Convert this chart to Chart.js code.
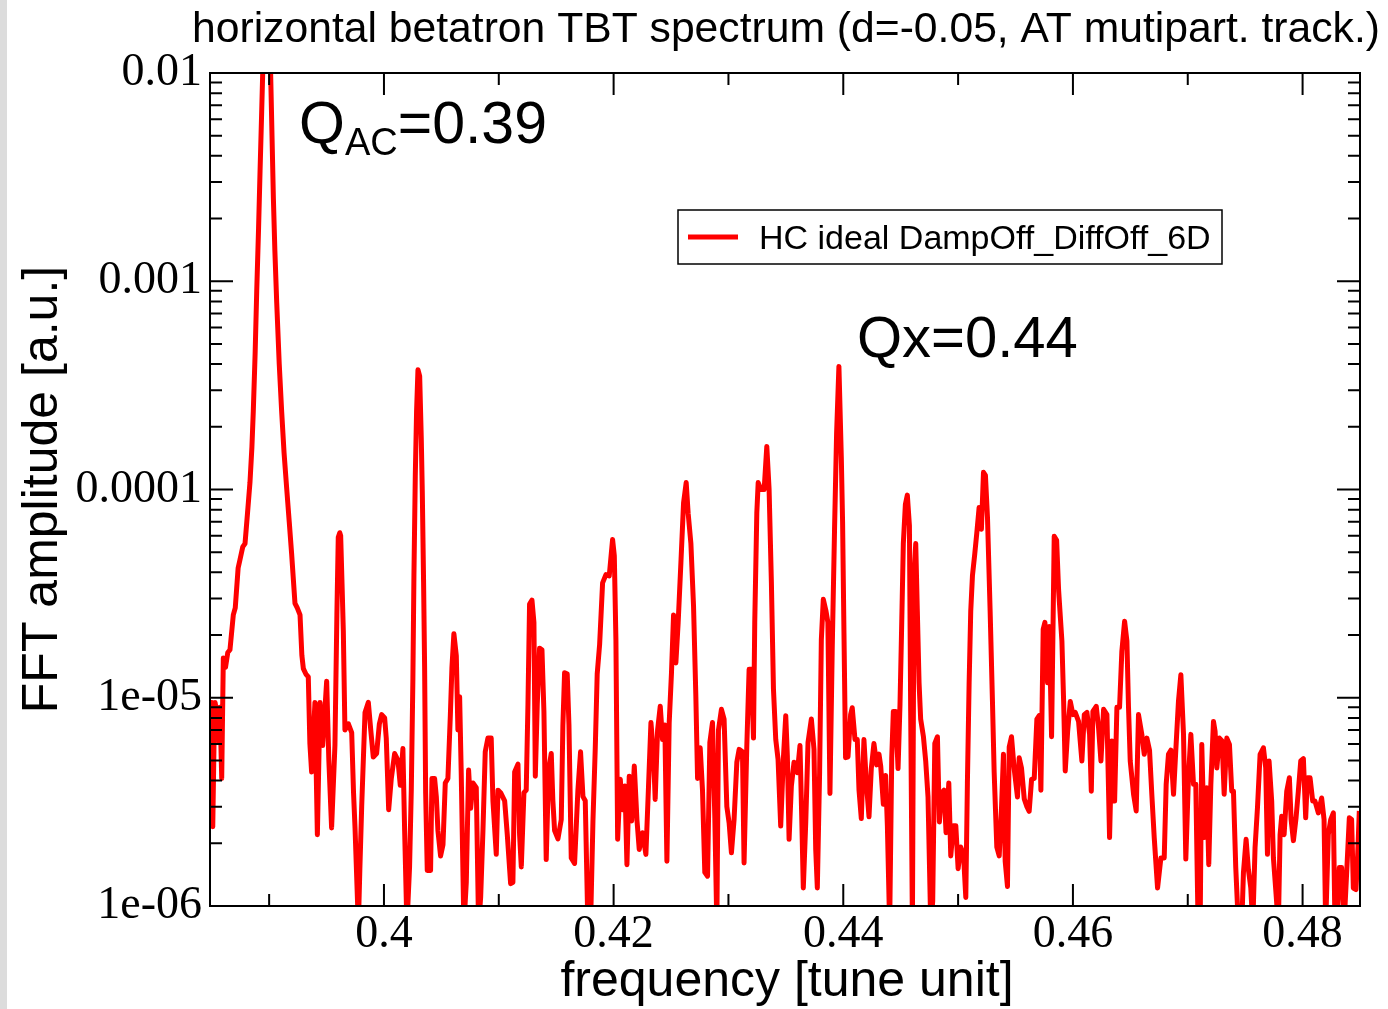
<!DOCTYPE html>
<html>
<head>
<meta charset="utf-8">
<title>horizontal betatron TBT spectrum</title>
<script src="https://cdn.jsdelivr.net/npm/chart.js@4.4.0/dist/chart.umd.min.js"></script>
<style>
  html, body { margin: 0; padding: 0; background: #fff; }
  #wrap { width: 1388px; height: 1009px; }
</style>
</head>
<body>
<div id="wrap"><canvas id="spectrum" width="1388" height="1009"></canvas></div>
<script>
// Texts
const chartTitle = 'horizontal betatron TBT spectrum (d=-0.05, AT mutipart. track.)';
const xTitle = 'frequency [tune unit]';
const yTitle = 'FFT amplitude [a.u.]';
const seriesName = 'HC ideal DampOff_DiffOff_6D';

// Axis ticks
const xTickValues = [0.39, 0.40, 0.41, 0.42, 0.43, 0.44, 0.45, 0.46, 0.47, 0.48];
const xLabelValues = [0.40, 0.42, 0.44, 0.46, 0.48];
const xLabelTexts = ['0.4', '0.42', '0.44', '0.46', '0.48'];
const yDecades = [1e-6, 1e-5, 1e-4, 1e-3, 1e-2];
const yLabelTexts = ['1e-06', '1e-05', '0.0001', '0.001', '0.01'];

// Spectrum (tune, amplitude)
const freq = [
  0.38487, 0.38495, 0.38502, 0.38509, 0.38520, 0.38529, 0.38545, 0.38558, 0.38572, 0.38587,
  0.38601, 0.38620, 0.38640, 0.38659, 0.38688, 0.38705, 0.38730, 0.38746, 0.38770, 0.38790,
  0.38810, 0.38833, 0.38850, 0.38862, 0.38878, 0.38892, 0.38908, 0.38921, 0.38935, 0.38944,
  0.38960, 0.38979, 0.38998, 0.39013, 0.39025, 0.39037, 0.39050, 0.39066, 0.39088, 0.39109,
  0.39130, 0.39153, 0.39175, 0.39196, 0.39225, 0.39245, 0.39269, 0.39285, 0.39298, 0.39320,
  0.39341, 0.39355, 0.39370, 0.39399, 0.39420, 0.39443, 0.39466, 0.39501, 0.39520, 0.39544,
  0.39573, 0.39590, 0.39602, 0.39615, 0.39623, 0.39635, 0.39646, 0.39660, 0.39690, 0.39719,
  0.39735, 0.39748, 0.39777, 0.39790, 0.39806, 0.39835, 0.39864, 0.39885, 0.39907, 0.39936,
  0.39960, 0.39980, 0.40006, 0.40020, 0.40041, 0.40064, 0.40093, 0.40122, 0.40142, 0.40165,
  0.40180, 0.40200, 0.40223, 0.40238, 0.40252, 0.40261, 0.40273, 0.40284, 0.40296, 0.40311,
  0.40325, 0.40334, 0.40345, 0.40354, 0.40363, 0.40377, 0.40406, 0.40418, 0.40441, 0.40456,
  0.40470, 0.40493, 0.40514, 0.40534, 0.40557, 0.40578, 0.40592, 0.40609, 0.40630, 0.40644,
  0.40659, 0.40673, 0.40696, 0.40717, 0.40737, 0.40755, 0.40775, 0.40804, 0.40824, 0.40842,
  0.40862, 0.40882, 0.40905, 0.40934, 0.40949, 0.40978, 0.40993, 0.41016, 0.41051, 0.41074,
  0.41103, 0.41123, 0.41138, 0.41167, 0.41181, 0.41196, 0.41219, 0.41239, 0.41254, 0.41268,
  0.41289, 0.41306, 0.41318, 0.41335, 0.41355, 0.41376, 0.41393, 0.41413, 0.41434, 0.41457,
  0.41471, 0.41486, 0.41515, 0.41544, 0.41558, 0.41573, 0.41596, 0.41611, 0.41631, 0.41660,
  0.41689, 0.41712, 0.41733, 0.41753, 0.41776, 0.41799, 0.41820, 0.41840, 0.41857, 0.41878,
  0.41904, 0.41933, 0.41962, 0.41991, 0.42006, 0.42020, 0.42035, 0.42058, 0.42078, 0.42099,
  0.42116, 0.42136, 0.42157, 0.42180, 0.42203, 0.42223, 0.42252, 0.42281, 0.42304, 0.42325,
  0.42348, 0.42362, 0.42383, 0.42406, 0.42426, 0.42446, 0.42464, 0.42484, 0.42504, 0.42522,
  0.42542, 0.42562, 0.42586, 0.42609, 0.42632, 0.42649, 0.42673, 0.42696, 0.42716, 0.42731,
  0.42754, 0.42774, 0.42794, 0.42818, 0.42838, 0.42861, 0.42881, 0.42899, 0.42913, 0.42939,
  0.42962, 0.42986, 0.43006, 0.43026, 0.43049, 0.43073, 0.43093, 0.43122, 0.43136, 0.43160,
  0.43180, 0.43200, 0.43218, 0.43229, 0.43247, 0.43259, 0.43282, 0.43311, 0.43334, 0.43354,
  0.43374, 0.43392, 0.43412, 0.43432, 0.43455, 0.43478, 0.43499, 0.43513, 0.43528, 0.43548,
  0.43571, 0.43600, 0.43623, 0.43638, 0.43652, 0.43673, 0.43693, 0.43722, 0.43745, 0.43760,
  0.43774, 0.43794, 0.43809, 0.43826, 0.43850, 0.43866, 0.43884, 0.43904, 0.43924, 0.43942,
  0.43962, 0.43983, 0.43994, 0.44006, 0.44020, 0.44041, 0.44064, 0.44078, 0.44102, 0.44122,
  0.44137, 0.44157, 0.44180, 0.44201, 0.44224, 0.44244, 0.44267, 0.44291, 0.44311, 0.44326,
  0.44349, 0.44369, 0.44384, 0.44404, 0.44422, 0.44436, 0.44456, 0.44477, 0.44494, 0.44506,
  0.44523, 0.44541, 0.44558, 0.44576, 0.44587, 0.44602, 0.44616, 0.44631, 0.44645, 0.44660,
  0.44674, 0.44698, 0.44718, 0.44738, 0.44762, 0.44779, 0.44797, 0.44820, 0.44837, 0.44855,
  0.44878, 0.44895, 0.44919, 0.44936, 0.44959, 0.44980, 0.45000, 0.45023, 0.45047, 0.45067,
  0.45081, 0.45096, 0.45110, 0.45125, 0.45145, 0.45163, 0.45183, 0.45203, 0.45221, 0.45238,
  0.45256, 0.45279, 0.45299, 0.45314, 0.45337, 0.45358, 0.45378, 0.45395, 0.45410, 0.45430,
  0.45445, 0.45465, 0.45488, 0.45517, 0.45532, 0.45552, 0.45576, 0.45599, 0.45619, 0.45640,
  0.45663, 0.45686, 0.45706, 0.45721, 0.45741, 0.45756, 0.45779, 0.45794, 0.45814, 0.45837,
  0.45858, 0.45875, 0.45904, 0.45919, 0.45933, 0.45954, 0.45977, 0.46000, 0.46020, 0.46049,
  0.46078, 0.46099, 0.46122, 0.46145, 0.46160, 0.46174, 0.46203, 0.46223, 0.46244, 0.46267,
  0.46296, 0.46319, 0.46339, 0.46363, 0.46383, 0.46406, 0.46426, 0.46450, 0.46470, 0.46484,
  0.46499, 0.46528, 0.46551, 0.46571, 0.46600, 0.46621, 0.46644, 0.46667, 0.46687, 0.46708,
  0.46737, 0.46766, 0.46795, 0.46812, 0.46832, 0.46853, 0.46876, 0.46896, 0.46919, 0.46940,
  0.46963, 0.46983, 0.47006, 0.47027, 0.47050, 0.47070, 0.47090, 0.47108, 0.47122, 0.47143,
  0.47166, 0.47183, 0.47201, 0.47224, 0.47238, 0.47253, 0.47276, 0.47299, 0.47317, 0.47340,
  0.47363, 0.47383, 0.47398, 0.47418, 0.47441, 0.47470, 0.47485, 0.47508, 0.47528, 0.47549,
  0.47566, 0.47586, 0.47607, 0.47630, 0.47659, 0.47679, 0.47694, 0.47708, 0.47731, 0.47746,
  0.47769, 0.47789, 0.47804, 0.47818, 0.47839, 0.47862, 0.47885, 0.47900, 0.47920, 0.47943,
  0.47963, 0.47984, 0.48007, 0.48027, 0.48042, 0.48065, 0.48088, 0.48108, 0.48137, 0.48166,
  0.48187, 0.48201, 0.48224, 0.48245, 0.48268, 0.48282, 0.48297, 0.48320, 0.48340, 0.48361,
  0.48384, 0.48407, 0.48427, 0.48442, 0.48465, 0.48480, 0.48494
];
const amp = [
  7.0e-6, 9.5e-6, 6.5e-6, 2.4e-6, 6.0e-6, 9.5e-6, 8.5e-6, 6.2e-6, 9.0e-6, 4.1e-6,
  1.55e-5, 1.4e-5, 1.65e-5, 1.7e-5, 2.5e-5, 2.7e-5, 4.2e-5, 4.6e-5, 5.3e-5, 5.5e-5,
  7.5e-5, 1.08e-4, 1.6e-4, 2.37e-4, 4.5e-4, 9.0e-4, 1.8e-3, 3.4e-3, 6.5e-3, 1.0e-2,
  2.0e-2, 2.8e-2, 2.0e-2, 1.0e-2, 5.0e-3, 2.5e-3, 1.4e-3, 7.9e-4, 4.0e-4, 2.37e-4,
  1.5e-4, 1.01e-4, 7.0e-5, 4.9e-5, 2.84e-5, 2.7e-5, 2.5e-5, 1.6e-5, 1.38e-5, 1.3e-5,
  1.26e-5, 6.0e-6, 4.4e-6, 9.5e-6, 2.2e-6, 9.5e-6, 5.9e-6, 1.2e-5, 5.0e-6, 2.37e-6,
  5.9e-6, 2.5e-5, 5.9e-5, 6.2e-5, 6.0e-5, 3.5e-5, 2.1e-5, 7.0e-6, 7.5e-6, 6.8e-6,
  3.5e-6, 2.37e-6, 8.0e-7, 1.5e-6, 3.0e-6, 8.5e-6, 9.5e-6, 7.0e-6, 5.2e-6, 5.4e-6,
  7.5e-6, 8.3e-6, 8.0e-6, 6.4e-6, 2.9e-6, 4.1e-6, 5.4e-6, 5.0e-6, 3.8e-6, 5.7e-6,
  2.3e-6, 8.0e-7, 1.54e-6, 3.6e-6, 1.24e-5, 3.9e-5, 1.18e-4, 2.37e-4, 3.76e-4, 3.5e-4,
  1.75e-4, 9.6e-5, 3.6e-5, 1.4e-5, 3.5e-6, 1.48e-6, 1.48e-6, 4.1e-6, 4.1e-6, 3.35e-6,
  2.3e-6, 1.74e-6, 1.97e-6, 3.9e-6, 4.1e-6, 8.2e-6, 1.4e-5, 2.03e-5, 1.59e-5, 7.0e-6,
  1.01e-5, 4.3e-6, 8.0e-7, 1.3e-6, 4.5e-6, 2.95e-6, 3.9e-6, 3.7e-6, 8.0e-7, 1.1e-6,
  2.3e-6, 5.5e-6, 6.4e-6, 6.4e-6, 3.2e-6, 1.77e-6, 3.6e-6, 3.5e-6, 3.2e-6, 2.2e-6,
  1.28e-6, 1.3e-6, 4.4e-6, 4.8e-6, 2.2e-6, 1.54e-6, 3.5e-6, 3.6e-6, 9.3e-6, 2.82e-5,
  2.94e-5, 2.3e-5, 4.2e-6, 9.3e-6, 1.73e-5, 1.7e-5, 8.6e-6, 1.67e-6, 4.5e-6, 5.4e-6,
  3.2e-6, 2.3e-6, 2.1e-6, 2.6e-6, 7.3e-6, 1.32e-5, 1.3e-5, 7.4e-6, 1.7e-6, 1.6e-6,
  3.6e-6, 5.5e-6, 3.35e-6, 3.2e-6, 8.0e-7, 8.0e-7, 2.56e-6, 5.7e-6, 1.3e-5, 1.8e-5,
  3.56e-5, 3.9e-5, 3.85e-5, 5.75e-5, 4.8e-5, 1.9e-5, 2.09e-6, 4.06e-6, 2.9e-6, 3.77e-6,
  1.58e-6, 4.2e-6, 2.56e-6, 4.7e-6, 2.6e-6, 1.87e-6, 2.25e-6, 1.77e-6, 3.77e-6, 7.6e-6,
  5.25e-6, 3.25e-6, 7.0e-6, 9.1e-6, 6.3e-6, 7.4e-6, 1.64e-6, 7.6e-6, 1.32e-5, 2.5e-5,
  1.47e-5, 2.29e-5, 4.45e-5, 8.6e-5, 1.08e-4, 7.7e-5, 5.5e-5, 2.75e-5, 1.02e-5, 4.1e-6,
  5.75e-6, 3.6e-6, 1.45e-6, 1.39e-6, 6.1e-6, 7.6e-6, 2.7e-6, 8.0e-7, 7.0e-6, 8.8e-6,
  7.9e-6, 3.0e-6, 2.5e-6, 1.8e-6, 2.6e-6, 4.9e-6, 5.65e-6, 5.5e-6, 1.61e-6, 5.9e-6,
  1.37e-5, 1.37e-5, 6.4e-6, 2.29e-5, 7.7e-5, 1.08e-4, 1.0e-4, 1.0e-4, 1.61e-4, 1.0e-4,
  3.56e-5, 1.1e-5, 6.3e-6, 5.06e-6, 2.42e-6, 5.06e-6, 8.2e-6, 5.25e-6, 2.09e-6, 3.77e-6,
  4.9e-6, 4.37e-6, 5.9e-6, 2.7e-6, 1.22e-6, 2.5e-6, 6.1e-6, 7.9e-6, 5.65e-6, 1.87e-6,
  1.22e-6, 4.4e-6, 1.9e-5, 2.97e-5, 2.6e-5, 2.3e-5, 3.47e-6, 1.75e-5, 6.45e-5, 1.87e-4,
  3.9e-4, 1.42e-4, 6.98e-5, 2.05e-5, 5.15e-6, 5.2e-6, 8.3e-6, 8.95e-6, 6.3e-6, 6.3e-6,
  3.6e-6, 2.63e-6, 6.3e-6, 3.9e-6, 2.68e-6, 4.57e-6, 6.03e-6, 4.76e-6, 5.36e-6, 4.7e-6,
  3.08e-6, 4.23e-6, 2.43e-6, 8.0e-7, 5.15e-6, 8.6e-6, 8.6e-6, 4.57e-6, 9.3e-6, 1.9e-5,
  5.5e-5, 8.5e-5, 9.4e-5, 6.7e-5, 8.6e-6, 8.0e-7, 3.86e-5, 5.5e-5, 2.6e-5, 1.18e-5,
  7.9e-6, 6.5e-6, 4.95e-6, 3.34e-6, 8.0e-7, 1.06e-6, 6.03e-6, 6.5e-6, 2.53e-6, 3.47e-6,
  3.6e-6, 2.25e-6, 3.9e-6, 1.74e-6, 2.43e-6, 2.43e-6, 1.51e-6, 1.92e-6, 1.77e-6, 1.1e-6,
  3.9e-6, 1.18e-5, 2.6e-5, 3.86e-5, 4.9e-5, 6.2e-5, 8.2e-5, 6.45e-5, 1.21e-4, 1.17e-4,
  7.3e-5, 2.6e-5, 9.7e-6, 4.4e-6, 1.92e-6, 1.74e-6, 2.96e-6, 5.36e-6, 1.64e-6, 1.24e-6,
  5.8e-6, 6.5e-6, 4.57e-6, 3.34e-6, 5.15e-6, 4.6e-6, 3.27e-6, 3.0e-6, 2.85e-6, 4.06e-6,
  4.1e-6, 7.9e-6, 8.2e-6, 3.6e-6, 2.13e-5, 2.3e-5, 1.18e-5, 2.2e-5, 6.5e-6, 5.96e-5,
  5.7e-5, 3.3e-5, 1.87e-5, 9.6e-6, 4.45e-6, 6.9e-6, 9.6e-6, 8.3e-6, 8.5e-6, 7.7e-6,
  4.97e-6, 8.3e-6, 8.5e-6, 6.67e-6, 3.56e-6, 8.6e-6, 9.1e-6, 7.2e-6, 4.97e-6, 8.8e-6,
  8.3e-6, 2.13e-6, 6.2e-6, 3.19e-6, 9.0e-6, 9.0e-6, 1.67e-5, 2.33e-5, 1.87e-5, 9.0e-6,
  4.97e-6, 3.44e-6, 2.86e-6, 8.3e-6, 6.67e-6, 5.35e-6, 6.4e-6, 5.6e-6, 3.44e-6, 2.13e-6,
  1.22e-6, 1.7e-6, 1.7e-6, 3.84e-6, 5.35e-6, 5.6e-6, 3.44e-6, 5.6e-6, 9.6e-6, 1.29e-5,
  6.67e-6, 1.68e-6, 4.13e-6, 6.67e-6, 3.84e-6, 3.84e-6, 8.0e-7, 8.0e-7, 5.97e-6, 2.13e-6,
  3.7e-6, 1.58e-6, 3.84e-6, 7.7e-6, 6.9e-6, 4.6e-6, 6.4e-6, 6.2e-6, 3.44e-6, 6.4e-6,
  5.97e-6, 3.56e-6, 3.56e-6, 1.53e-6, 8.0e-7, 8.0e-7, 1.45e-6, 2.09e-6, 1.5e-6, 1.22e-6,
  8.0e-7, 1.9e-6, 2.96e-6, 5.35e-6, 5.75e-6, 4.6e-6, 1.77e-6, 4.97e-6, 3.19e-6, 1.7e-6,
  1.14e-6, 8.0e-7, 2.2e-6, 2.7e-6, 2.2e-6, 3.56e-6, 4.13e-6, 2.6e-6, 2.06e-6, 2.65e-6,
  3.56e-6, 4.97e-6, 5.1e-6, 2.65e-6, 4.13e-6, 4.13e-6, 3.19e-6, 3.19e-6, 2.8e-6, 3.3e-6,
  2.6e-6, 8.0e-7, 2.2e-6, 2.6e-6, 2.8e-6, 8.0e-7, 8.0e-7, 1.53e-6, 1.53e-6, 8.0e-7,
  1.45e-6, 2.65e-6, 2.6e-6, 1.22e-6, 1.2e-6, 1.77e-6, 2.86e-6
];

function xLabel(v) {
  const i = xLabelValues.findIndex(t => Math.abs(t - v) < 1e-9);
  return i < 0 ? '' : xLabelTexts[i];
}

function yLabel(v) {
  const i = yDecades.findIndex(t => Math.abs(Math.log10(t) - Math.log10(v)) < 1e-9);
  return i < 0 ? '' : yLabelTexts[i];
}

// White page with the thin grey strip at the left edge
const background = {
  id: 'background',
  beforeDraw(chart) {
    const ctx = chart.ctx;
    ctx.save();
    ctx.fillStyle = '#fff';
    ctx.fillRect(0, 0, chart.width, chart.height);
    ctx.fillStyle = '#dcdcdc';
    ctx.fillRect(0, 0, 7, chart.height);
    ctx.restore();
  }
};

// Frame and inward tick marks on all four sides
const frame = {
  id: 'frame',
  afterDatasetsDraw(chart) {
    const { ctx, chartArea: a, scales: { x, y } } = chart;
    ctx.save();
    ctx.strokeStyle = '#000';
    ctx.lineWidth = 2;
    ctx.beginPath();
    x.ticks.forEach(t => {
      const px = x.getPixelForValue(t.value);
      const len = xLabel(t.value) ? 22 : 12;
      ctx.moveTo(px, a.bottom); ctx.lineTo(px, a.bottom - len);
      ctx.moveTo(px, a.top); ctx.lineTo(px, a.top + len);
    });
    y.ticks.forEach(t => {
      const py = y.getPixelForValue(t.value);
      const len = t.major ? 23 : 12;
      ctx.moveTo(a.left, py); ctx.lineTo(a.left + len, py);
      ctx.moveTo(a.right, py); ctx.lineTo(a.right - len, py);
    });
    ctx.stroke();
    ctx.strokeRect(a.left, a.top, a.right - a.left, a.bottom - a.top);
    ctx.restore();
  }
};

// Title, axis titles, notes and the boxed legend
const labels = {
  id: 'labels',
  afterDraw(chart) {
    const { ctx, chartArea: a } = chart;
    const cx = (a.left + a.right) / 2;
    const sans = '"Liberation Sans", Arial, sans-serif';
    ctx.save();
    ctx.fillStyle = '#000';
    ctx.textBaseline = 'alphabetic';

    ctx.textAlign = 'center';
    ctx.font = '43px ' + sans;
    ctx.fillText(chartTitle, cx + 1, 42, 1188);

    ctx.font = '50px ' + sans;
    ctx.fillText(xTitle, cx + 2, 996);

    ctx.save();
    ctx.translate(57, (a.top + a.bottom) / 2);
    ctx.rotate(-Math.PI / 2);
    ctx.fillText(yTitle, 0, 0);
    ctx.restore();

    // Q_AC=0.39
    ctx.textAlign = 'left';
    ctx.font = '59px ' + sans;
    ctx.fillText('Q', 299, 143);
    let w = ctx.measureText('Q').width;
    ctx.font = '38px ' + sans;
    ctx.fillText('AC', 299 + w, 155);
    w += ctx.measureText('AC').width;
    ctx.font = '59px ' + sans;
    ctx.fillText('=0.39', 299 + w, 143);

    // Qx=0.44
    ctx.font = '58px ' + sans;
    ctx.fillText('Qx=0.44', 857, 357);

    // legend box
    ctx.lineWidth = 1.5;
    ctx.strokeRect(678, 210, 544, 54);
    ctx.strokeStyle = '#ff0000';
    ctx.lineWidth = 5;
    ctx.beginPath();
    ctx.moveTo(688, 237);
    ctx.lineTo(738, 237);
    ctx.stroke();
    ctx.font = '34px ' + sans;
    ctx.fillText(seriesName, 759, 249);
    ctx.restore();
  }
};

const serifTicks = { family: '"Liberation Serif", "Times New Roman", serif', size: 46 };

new Chart(document.getElementById('spectrum').getContext('2d'), {
  type: 'line',
  data: {
    datasets: [{
      label: seriesName,
      data: freq.map((f, i) => ({ x: f, y: amp[i] })),
      borderColor: '#ff0000',
      borderWidth: 5,
      borderJoinStyle: 'round',
      pointRadius: 0,
      tension: 0,
      fill: false,
      clip: 0
    }]
  },
  options: {
    responsive: false,
    devicePixelRatio: 1,
    animation: false,
    events: [],
    layout: { padding: { top: 73, right: 28, bottom: 0, left: 0 } },
    plugins: {
      legend: { display: false },
      title: { display: false },
      tooltip: { enabled: false }
    },
    scales: {
      x: {
        type: 'linear',
        min: 0.38485,
        max: 0.485,
        afterBuildTicks: s => { s.ticks = xTickValues.map(v => ({ value: v })); },
        afterFit: s => { s.height = 103; },
        grid: { display: false, drawTicks: false },
        border: { display: false },
        ticks: {
          autoSkip: false,
          maxRotation: 0,
          padding: 1,
          color: '#000',
          font: serifTicks,
          callback: v => xLabel(v)
        }
      },
      y: {
        type: 'logarithmic',
        min: 1e-6,
        max: 1e-2,
        afterBuildTicks: s => {
          const ticks = [];
          yDecades.forEach((d, k) => {
            const last = k === yDecades.length - 1;
            for (let m = 1; m <= (last ? 1 : 9); m++) {
              ticks.push({ value: d * m, major: m === 1 });
            }
          });
          s.ticks = ticks;
        },
        afterFit: s => { s.width = 210; },
        grid: { display: false, drawTicks: false },
        border: { display: false },
        ticks: {
          autoSkip: false,
          padding: 8,
          color: '#000',
          font: serifTicks,
          callback: v => yLabel(v)
        }
      }
    }
  },
  plugins: [background, frame, labels]
});
</script>
</body>
</html>
